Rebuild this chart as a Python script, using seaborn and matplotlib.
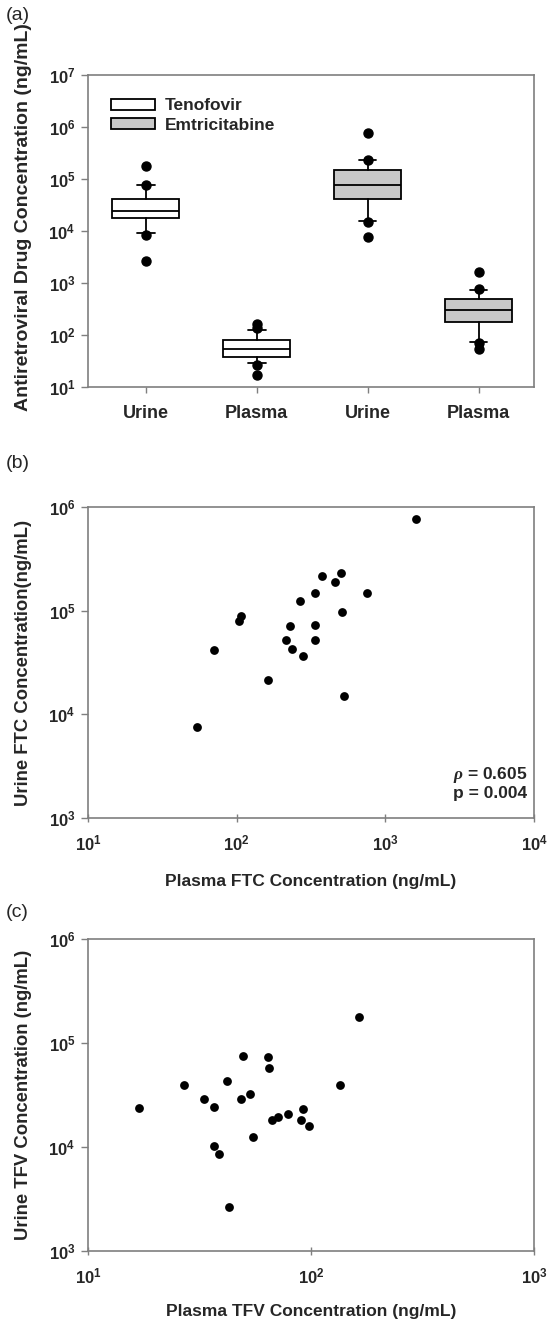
import matplotlib
matplotlib.use("Agg")
import matplotlib.pyplot as plt
from matplotlib.patches import Patch
from matplotlib.ticker import LogLocator, FuncFormatter, NullLocator
import seaborn as sns
import numpy as np
import pandas as pd

# data (ng/mL), one entry per subject
ftc_plasma = [1610, 374, 505, 458, 336, 752, 268, 511, 107.5, 104,
              230, 336, 215, 337, 235, 70.3, 279, 162, 529, 53.7]
ftc_urine = [760000, 217000, 228000, 190000, 146000, 147000, 124000, 97600, 89300, 78800,
             71000, 72100, 52100, 51700, 42700, 41400, 36800, 21600, 15100, 7570]

tfv_plasma = [164, 49.5, 64, 64.9, 26.9, 41.9, 135, 53.1, 33.0, 48.7, 36.8,
              16.9, 91.9, 78.7, 70.9, 66.7, 89.8, 97.5, 55.0, 36.6, 38.8, 42.8]
tfv_urine = [176000, 75700, 73500, 57500, 39200, 43100, 39700, 32600, 28900, 28900, 24200,
             23500, 23300, 20900, 19300, 18000, 18300, 15800, 12400, 10200, 8470, 2630]

categories = ["Urine", "Plasma", "Urine", "Plasma"]
drugs = ["Tenofovir", "Emtricitabine"]
drug_colors = ["white", "#c8c8c8"]
rho_text = "$\\rho$ = 0.605\np = 0.004"

sns.set_theme(style="ticks")
plt.rcParams["font.family"] = ["Liberation Sans", "DejaVu Sans"]
plt.rcParams["font.weight"] = "bold"
plt.rcParams["mathtext.fontset"] = "custom"
plt.rcParams["mathtext.rm"] = "Liberation Sans:bold"
plt.rcParams["mathtext.bf"] = "Liberation Sans:bold"
plt.rcParams["mathtext.it"] = "Liberation Serif:italic"

SPINE = "#7f7f7f"


def box_stats(values):
    # sigmaplot style: box = 25/50/75, whiskers = 10th/90th percentile
    v = np.asarray(values, dtype=float)
    q10, q25, q50, q75, q90 = np.percentile(v, [10, 25, 50, 75, 90], method="weibull")
    return dict(med=q50, q1=q25, q3=q75, whislo=q10, whishi=q90,
                fliers=v[(v < q10) | (v > q90)])


def pow10(val, pos):
    return r"$\mathbf{10^{%d}}$" % int(round(np.log10(val)))


def style_axes(ax):
    for s in ax.spines.values():
        s.set_color(SPINE)
        s.set_linewidth(1.2)
    ax.tick_params(axis="y", which="major", direction="out", length=5, width=1,
                   color=SPINE, labelsize=12, pad=4)
    ax.tick_params(axis="x", which="major", direction="inout", length=6, width=1,
                   color=SPINE, labelsize=12, pad=8)
    ax.yaxis.set_minor_locator(NullLocator())
    ax.yaxis.set_major_locator(LogLocator(base=10, numticks=10))
    ax.yaxis.set_major_formatter(FuncFormatter(pow10))


def log_xaxis(ax):
    ax.xaxis.set_minor_locator(NullLocator())
    ax.xaxis.set_major_locator(LogLocator(base=10, numticks=10))
    ax.xaxis.set_major_formatter(FuncFormatter(pow10))


fig = plt.figure(figsize=(5.5, 13.27), dpi=100)

# (a) box plots
ax_a = fig.add_axes([0.16, 0.7084, 0.811, 0.2351])
groups = [tfv_urine, tfv_plasma, ftc_urine, ftc_plasma]
stats = [box_stats(g) for g in groups]
box_colors = [drug_colors[0], drug_colors[0], drug_colors[1], drug_colors[1]]
bp = ax_a.bxp(stats, positions=range(len(categories)), widths=0.6, capwidths=0.16,
              patch_artist=True, showfliers=True,
              boxprops=dict(edgecolor="black", linewidth=1.3),
              medianprops=dict(color="black", linewidth=1.3),
              whiskerprops=dict(color="black", linewidth=1.3),
              capprops=dict(color="black", linewidth=1.3),
              flierprops=dict(marker="o", markerfacecolor="black",
                              markeredgecolor="black", markersize=6.5))
for patch, c in zip(bp["boxes"], box_colors):
    patch.set_facecolor(c)
ax_a.set_yscale("log")
ax_a.set_ylim(10, 1e7)
ax_a.set_xlim(-0.52, 3.5)
style_axes(ax_a)
ax_a.set_xticks(range(len(categories)))
ax_a.set_xticklabels(categories, fontsize=13, fontweight="bold")
ax_a.tick_params(axis="x", direction="out", length=4, pad=9)
ax_a.set_ylabel("Antiretroviral Drug Concentration (ng/mL)", fontsize=14, fontweight="bold")
ax_a.yaxis.set_label_coords(-0.125, 0.545)
handles = [Patch(facecolor=c, edgecolor="black", linewidth=1.3) for c in drug_colors]
ax_a.legend(handles, drugs, loc="upper left", bbox_to_anchor=(0.052, 0.925),
            frameon=False, handlelength=2.5, handleheight=0.6,
            handletextpad=0.6, labelspacing=0.25, borderpad=0, borderaxespad=0,
            prop=dict(weight="bold", size=12.5))
fig.text(0.01, 0.988, "(a)", fontsize=14, fontweight="normal", va="center")

# (b) FTC scatter
ax_b = fig.add_axes([0.16, 0.3834, 0.811, 0.2348])
df_b = pd.DataFrame({"plasma": ftc_plasma, "urine": ftc_urine})
sns.scatterplot(data=df_b, x="plasma", y="urine", ax=ax_b, color="black",
                s=40, edgecolor="black", linewidth=0)
ax_b.set_xscale("log")
ax_b.set_yscale("log")
ax_b.set_xlim(10, 1e4)
ax_b.set_ylim(1e3, 1e6)
style_axes(ax_b)
log_xaxis(ax_b)
ax_b.set_xlabel("Plasma FTC Concentration (ng/mL)", fontsize=12.5, fontweight="bold")
ax_b.set_ylabel("Urine FTC Concentration(ng/mL)", fontsize=13.3, fontweight="bold")
ax_b.xaxis.set_label_coords(0.5, -0.18)
ax_b.yaxis.set_label_coords(-0.125, 0.5)
ax_b.text(0.985, 0.055, rho_text, transform=ax_b.transAxes, ha="right", va="bottom",
          fontsize=12.5, fontweight="bold", linespacing=1.05)
fig.text(0.01, 0.651, "(b)", fontsize=14, fontweight="normal", va="center")

# (c) TFV scatter
ax_c = fig.add_axes([0.16, 0.0573, 0.811, 0.2351])
df_c = pd.DataFrame({"plasma": tfv_plasma, "urine": tfv_urine})
sns.scatterplot(data=df_c, x="plasma", y="urine", ax=ax_c, color="black",
                s=40, edgecolor="black", linewidth=0)
ax_c.set_xscale("log")
ax_c.set_yscale("log")
ax_c.set_xlim(10, 1e3)
ax_c.set_ylim(1e3, 1e6)
style_axes(ax_c)
log_xaxis(ax_c)
ax_c.set_xlabel("Plasma TFV Concentration (ng/mL)", fontsize=12.5, fontweight="bold")
ax_c.set_ylabel("Urine TFV Concentration (ng/mL)", fontsize=13.3, fontweight="bold")
ax_c.xaxis.set_label_coords(0.5, -0.17)
ax_c.yaxis.set_label_coords(-0.125, 0.5)
fig.text(0.01, 0.312, "(c)", fontsize=14, fontweight="normal", va="center")

fig.savefig("out.png", dpi=100)
